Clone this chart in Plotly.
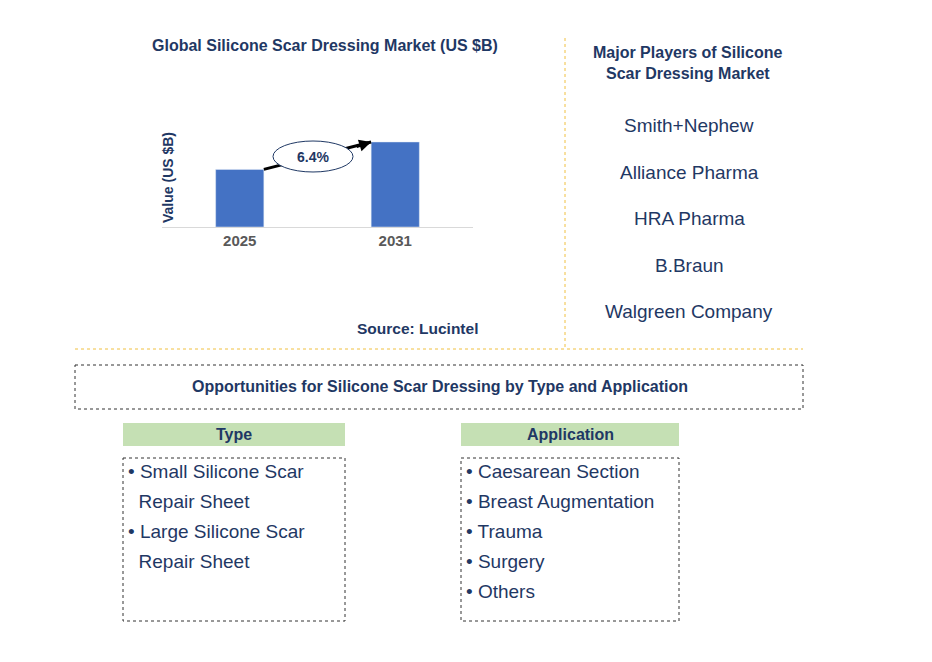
import plotly.graph_objects as go

years = ["2025", "2031"]
values = [2.1, 3.1]
cagr = "6.4%"
players = ["Smith+Nephew", "Alliance Pharma", "HRA Pharma", "B.Braun", "Walgreen Company"]
types = ["• Small Silicone Scar", "   Repair Sheet", "• Large Silicone Scar", "   Repair Sheet"]
applications = ["• Caesarean Section", "• Breast Augmentation", "• Trauma", "• Surgery", "• Others"]

W, H = 932, 662
OFF = 8  # page body margin
NAVY = "#1f3864"
FONT = "Liberation Sans, Arial, sans-serif"


def px(x):
    return (x - OFF) / W


def py(y):
    return 1 - (y - OFF) / H


fig = go.Figure()
fig.add_trace(go.Bar(x=[0, 1], y=values, width=0.31, marker_color="#4472c4"))

fig.update_layout(
    width=W, height=H, margin=dict(l=0, r=0, t=0, b=0),
    paper_bgcolor="white", plot_bgcolor="white", showlegend=False,
    font=dict(family=FONT, color=NAVY),
    xaxis=dict(domain=[px(162), px(473)], range=[-0.5, 1.5], tickvals=[0, 1], ticktext=years,
               showgrid=False, zeroline=False, showline=True, linecolor="#d9d9d9",
               tickfont=dict(size=15, color="#595959", family=FONT, weight="bold"), ticks=""),
    yaxis=dict(domain=[py(227), py(120)], range=[0, 3.9], showticklabels=False,
               showgrid=False, zeroline=False),
)

ann = []
shapes = []

def text(x, y, s, size=16, bold=False, color=NAVY, **kw):
    ann.append(dict(x=px(x), y=py(y), xref="paper", yref="paper", showarrow=False,
                    text=f"<b>{s}</b>" if bold else s, font=dict(size=size, color=color),
                    xanchor="center", yanchor="middle", **kw))

def rect(x0, y0, x1, y1, fill=None, dash="dot", line="#333333"):
    shapes.append(dict(type="rect", xref="paper", yref="paper", x0=px(x0), y0=py(y0), x1=px(x1), y1=py(y1),
                       fillcolor=fill or "rgba(0,0,0,0)",
                       line=dict(color=line, width=1, dash=dash) if dash else dict(width=0)))

# chart
text(325, 46, "Global Silicone Scar Dressing Market (US $B)", 16, True)
text(168, 178, "Value (US $B)", 14, True, textangle=-90)
text(417, 328, "Source: Lucintel", 15.5, True)
shapes.append(dict(type="line", xref="x", yref="y", x0=0.155, y0=values[0], x1=1 - 0.155, y1=values[1],
                   line=dict(color="black", width=3)))
shapes.append(dict(type="circle", xref="paper", yref="paper", x0=px(273), y0=py(141), x1=px(353), y1=py(172),
                   fillcolor="white", line=dict(color=NAVY, width=1)))
ann.append(dict(x=1 - 0.155, y=values[1], xref="x", yref="y", ax=-16, ay=5,
                text="", showarrow=True, arrowhead=2, arrowsize=0.8, arrowwidth=3, arrowcolor="black"))
text(313, 157, cagr, 14, True)

# players
shapes.append(dict(type="line", xref="paper", yref="paper", x0=px(565), x1=px(565), y0=py(38), y1=py(348),
                   line=dict(color="#f0c040", width=1, dash="dot")))
shapes.append(dict(type="line", xref="paper", yref="paper", x0=px(75), x1=px(803), y0=py(349), y1=py(349),
                   line=dict(color="#f0c040", width=1, dash="dot")))
text(688, 52, "Major Players of Silicone", 16, True)
text(688, 73, "Scar Dressing Market", 16, True)
for i, p in enumerate(players):
    text(689, 126 + i * 46.5, p, 19)

# opportunities
rect(75, 365, 803, 409)
text(440, 387, "Opportunities for Silicone Scar Dressing by Type and Application", 16, True)
rect(123, 423, 345, 446, fill="#c5e0b4", dash=None)
text(234, 434, "Type", 16, True)
rect(461, 423, 679, 446, fill="#c5e0b4", dash=None)
text(570, 434, "Application", 16, True)
rect(123, 458, 345, 621)
rect(461, 458, 679, 621)
for i, t in enumerate(types):
    ann.append(dict(x=px(126), y=py(471 + i * 30), xref="paper", yref="paper", showarrow=False,
                    text=t.replace("   ", "&nbsp;&nbsp;"), font=dict(size=19, color=NAVY),
                    xanchor="left", yanchor="middle"))
for i, t in enumerate(applications):
    ann.append(dict(x=px(464), y=py(471 + i * 30), xref="paper", yref="paper", showarrow=False,
                    text=t, font=dict(size=19, color=NAVY), xanchor="left", yanchor="middle"))

fig.update_layout(annotations=ann, shapes=shapes)
fig.write_html("out.html")
